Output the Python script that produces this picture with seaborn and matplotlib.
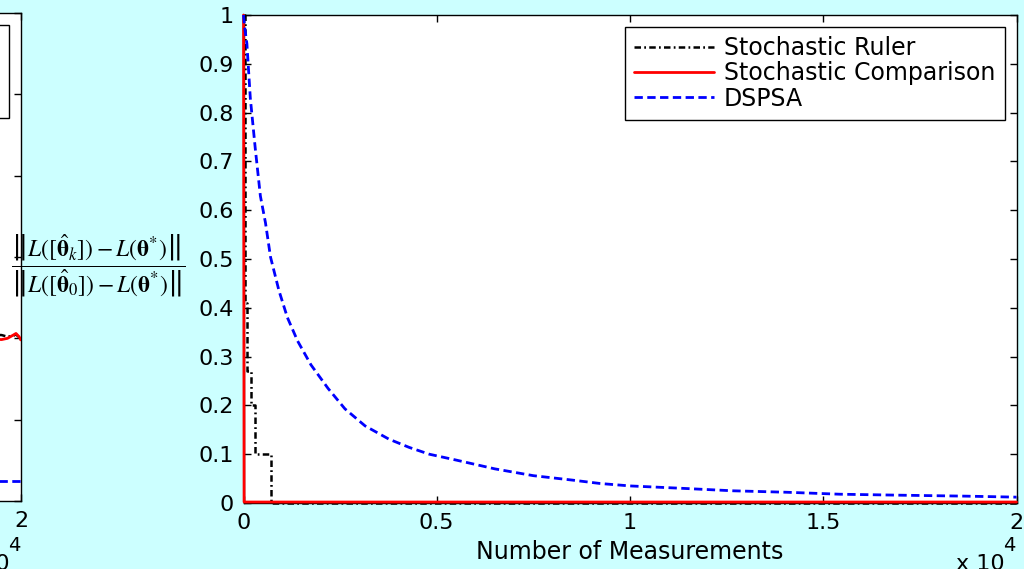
import matplotlib
matplotlib.use("Agg")
import matplotlib.pyplot as plt
import seaborn as sns
from matplotlib.ticker import FuncFormatter

# ---------------- data (main panel) ----------------
series_labels = ["Stochastic Ruler", "Stochastic Comparison", "DSPSA"]

ruler_x = [0, 40, 100, 190, 300, 715, 20000]
ruler_y = [1.0, 0.41, 0.27, 0.20, 0.10, 0.0, 0.0]

comp_x = [0, 15, 20000]
comp_y = [1.0, 0.002, 0.002]

dspsa_x = [0, 30, 88, 176, 305, 437, 569, 699, 918, 1136, 1400, 1746, 2186,
           2624, 3146, 3759, 4285, 4807, 5500, 6500, 7500, 8500, 9224, 10000,
           11370, 12665, 14060, 15430, 16985, 18720, 20000]
dspsa_y = [1.0, 0.975, 0.941, 0.830, 0.726, 0.629, 0.574, 0.504, 0.435, 0.380,
           0.332, 0.283, 0.235, 0.193, 0.158, 0.131, 0.114, 0.100, 0.088, 0.070,
           0.056, 0.047, 0.040, 0.035, 0.030, 0.025, 0.022, 0.018, 0.016, 0.014,
           0.012]

# ---------------- data (neighbouring panel, only its right end is visible) ----
left_x = [15000, 19000, 19500, 19650, 19800, 19870, 19950, 20000]
left_red = [0.40, 0.399, 0.397, 0.400, 0.408, 0.412, 0.404, 0.396]
left_black = [0.41, 0.410, 0.408, 0.404, 0.406, 0.410, 0.402, 0.396]
left_blue = [0.05, 0.049, 0.049, 0.049, 0.049, 0.049, 0.049, 0.049]

x_ticks = [0, 5000, 10000, 15000, 20000]
y_ticks_main = [0, 0.1, 0.2, 0.3, 0.4, 0.5, 0.6, 0.7, 0.8, 0.9, 1.0]
y_ticks_left = [0, 0.2, 0.4, 0.6, 0.8, 1.0, 1.2]

ylabel_text = (r"$\dfrac{\left\| L([\hat{\mathbf{\theta}}_k]) - L(\mathbf{\theta}^{*})\right\|}"
               r"{\left\| L([\hat{\mathbf{\theta}}_0]) - L(\mathbf{\theta}^{*})\right\|}$")
xlabel_text = "Number of Measurements"

# ---------------- style ----------------
sns.set_theme(style="white")
plt.rcParams["font.family"] = ["DejaVu Sans"]
plt.rcParams["mathtext.fontset"] = "stix"
for k in ("text.color", "axes.labelcolor", "xtick.color", "ytick.color"):
    plt.rcParams[k] = "black"
BG = "#CCFFFF"

W, H = 1024, 569
fig = plt.figure(figsize=(W / 100, H / 100), dpi=100, facecolor=BG)

def px_axes(left, top, right, bottom):
    return [left / W, 1 - bottom / H, (right - left) / W, (bottom - top) / H]

ax = fig.add_axes(px_axes(243.5, 15, 1016.5, 503))
ax0 = fig.add_axes(px_axes(21 - 773, 13, 21, 501))

ruler_style = dict(color="black", linewidth=1.8, linestyle=(0, (2.6, 1.3, 0.7, 1.3)))
comp_style = dict(color="#FF0000", linewidth=2.0, linestyle="-")
dspsa_style = dict(color="#0000FF", linewidth=2.0, linestyle=(0, (3.0, 1.6)))

def style_axes(a, yticks, ylim, show_all=True):
    a.set_facecolor("white")
    a.set_xlim(0, 20000)
    a.set_ylim(*ylim)
    a.set_xticks(x_ticks)
    a.set_yticks(yticks)
    if show_all:
        a.xaxis.set_major_formatter(FuncFormatter(lambda v, p: f"{v/1e4:g}"))
    else:
        # only the right-most label of the neighbouring panel lies inside the picture
        a.xaxis.set_major_formatter(
            FuncFormatter(lambda v, p: f"{v/1e4:g}" if v >= 20000 else ""))
    a.yaxis.set_major_formatter(FuncFormatter(lambda v, p: f"{v:g}"))
    a.tick_params(direction="in", length=5, width=1.0, top=True, right=True,
                  bottom=True, left=True, labelsize=16, colors="black", pad=7,
                  labelleft=show_all)
    for s in a.spines.values():
        s.set_visible(True)
        s.set_color("black")
        s.set_linewidth(1.0)
    a.set_xlabel("")
    a.set_ylabel("")

# main panel
sns.lineplot(x=ruler_x, y=ruler_y, ax=ax, drawstyle="steps-post", estimator=None,
             label=series_labels[0], clip_on=False, zorder=3, **ruler_style)
sns.lineplot(x=comp_x, y=comp_y, ax=ax, estimator=None,
             label=series_labels[1], clip_on=False, zorder=4, **comp_style)
sns.lineplot(x=dspsa_x, y=dspsa_y, ax=ax, estimator=None,
             label=series_labels[2], clip_on=False, zorder=5, **dspsa_style)
style_axes(ax, y_ticks_main, (0, 1))

# neighbouring panel
sns.lineplot(x=left_x, y=left_black, ax=ax0, estimator=None,
             label=series_labels[0], zorder=3, **ruler_style)
sns.lineplot(x=left_x, y=left_red, ax=ax0, estimator=None,
             label=series_labels[1], zorder=4, **comp_style)
sns.lineplot(x=left_x, y=left_blue, ax=ax0, estimator=None,
             label=series_labels[2], zorder=5, **dspsa_style)
style_axes(ax0, y_ticks_left, (0, 1.2), show_all=False)

leg_kw = dict(loc="upper right", fontsize=17, frameon=True, fancybox=False,
              edgecolor="black", facecolor="white", framealpha=1,
              handlelength=3.4, handletextpad=0.4, borderpad=0.4,
              labelspacing=0.05, borderaxespad=0.5)
for a in (ax, ax0):
    lg = a.legend(**leg_kw)
    lg.get_frame().set_linewidth(1.0)
    for t in lg.get_texts():
        t.set_color("black")

ax.set_xlabel(xlabel_text, fontsize=17, labelpad=5)

# y label (fraction) and MATLAB-style exponent texts
fig.text(98 / W, 1 - 266 / H, ylabel_text, ha="center", va="center", fontsize=17)
for right_px in (1015, 20):
    fig.text((right_px - 10) / W, -1.5 / H, "x 10", ha="right", va="baseline", fontsize=16)
    fig.text(right_px / W, 1 - 551 / H, "4", ha="right", va="baseline", fontsize=14)

fig.savefig("out.png", dpi=100, facecolor=BG)
